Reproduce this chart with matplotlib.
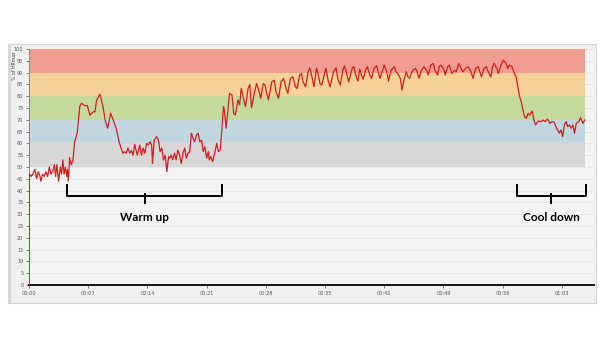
import matplotlib
matplotlib.use("Agg")
import matplotlib.pyplot as plt
from matplotlib.patches import Rectangle
import numpy as np

# heart rate as % of HRmax, time in minutes
minutes = [0, 0.05, 0.25, 0.45, 0.7, 0.9, 1.1, 1.3, 1.4, 1.6, 1.8, 2.0, 2.2, 2.4, 2.6, 2.8,
           3.0, 3.15, 3.3, 3.5, 3.7, 3.85, 4.0, 4.15, 4.3, 4.45, 4.55, 4.65, 4.8, 5.0, 5.2,
           5.4, 5.7, 6.0, 6.2, 6.6, 6.9, 7.2, 7.6, 7.8, 8.0, 8.4, 8.75, 9.0, 9.3, 9.65, 10.05,
           10.3, 10.7, 11.1, 11.3, 11.5, 11.7, 11.9, 12.1, 12.3, 12.5, 12.8,
           13.1, 13.3, 13.5, 13.7, 13.9, 14.1, 14.3, 14.5, 14.6, 14.8, 15.1, 15.3, 15.5, 15.7,
           15.9, 16.1, 16.3, 16.5, 16.65, 16.8, 17.0, 17.2, 17.4, 17.6, 17.8, 18.0, 18.2, 18.4,
           18.6, 18.8, 19.0, 19.2, 19.4, 19.6, 19.8, 20.0, 20.2, 20.4, 20.6, 20.8, 21.0, 21.2,
           21.3, 21.5, 21.7, 21.9, 22.2, 22.4, 22.6, 22.8, 23.0, 23.1, 23.3, 23.5, 23.7, 24.0,
           24.2, 24.4, 24.7, 24.9, 25.1, 25.4, 25.6, 25.9, 26.1,
           26.2, 26.3, 26.6, 26.9, 27.1, 27.4, 27.7, 27.9, 28.3, 28.7, 29.0, 29.2, 29.5, 29.8,
           30.1, 30.4, 30.6, 30.9, 31.2, 31.5, 31.7, 32.0, 32.2, 32.4, 32.7, 33.0, 33.2, 33.5,
           33.7, 34.0, 34.2, 34.4, 34.6, 34.9, 35.1, 35.4, 35.6, 36.0, 36.3, 36.5, 36.8, 37.1,
           37.3, 37.6, 37.8, 38.2, 38.4, 38.7, 38.9,
           39.1, 39.3, 39.5, 39.8, 40.0, 40.3, 40.5, 40.8, 41.1, 41.3, 41.5, 41.8, 42.0, 42.3,
           42.5, 42.8, 43.2, 43.4, 43.6, 43.9, 44.1, 44.3, 44.6, 44.8, 45.0, 45.2, 45.4, 45.7,
           45.9, 46.1, 46.4, 46.7, 47.0, 47.2, 47.5, 47.8, 48.0, 48.3, 48.5, 48.7, 49.1, 49.2,
           49.5, 49.7, 50.0, 50.3, 50.5, 50.8, 51.0, 51.3, 51.6, 51.9,
           52.2, 52.5, 52.8, 53.1, 53.3, 53.5, 53.8, 54.1, 54.3, 54.6, 54.8, 55.0, 55.3, 55.5,
           55.8, 56.1, 56.4, 56.6, 56.8, 57.1, 57.3, 57.6, 57.8, 58.0, 58.2, 58.4, 58.6, 58.8,
           59.0, 59.2, 59.5, 59.7, 59.9, 60.2, 60.5, 60.8, 61.0, 61.3, 61.6, 61.8, 62.1, 62.2,
           62.5, 62.7, 62.9, 63.1, 63.3, 63.5, 63.7, 63.9, 64.1, 64.3, 64.5, 64.7, 65.0, 65.2,
           65.5, 65.7]
hr_pct = [0, 47, 46, 47, 49, 45, 48, 46, 44, 47, 46, 48, 46, 50, 47, 48,
          51, 46, 51, 44, 50, 47, 53, 47, 50, 46, 49, 44, 54, 51, 53,
          60.7, 64.3, 75.6, 77, 76, 76, 72, 73.4, 73.4, 78.4, 80.8, 75.5, 69.9, 66.4, 72.8, 69,
          66.4, 60, 55.8, 56.5, 55.8, 58, 55.8, 57, 55, 59.6, 55,
          59.3, 55, 58, 55.8, 60, 59.3, 60.7, 59.3, 51.5, 61.4, 62.8, 61.4, 56.5, 58,
          53, 55, 48, 54.4, 53.7, 55, 53, 55.8, 53, 57.2, 55, 51.5, 55.8, 58,
          53.7, 55.8, 56.5, 64.3, 62.2, 60.7, 63.6, 64.3, 60.7, 61.4, 56.5, 58.6, 53.7, 56.5,
          53, 54.4, 52.3, 55, 60, 56.5, 57.2, 65.7, 75.6, 74.2, 66.4, 73.4, 81.2, 80.5,
          72.7, 72, 78.4, 76.3, 83.3, 78.4, 75.6, 83.3, 85,
          80.5, 75.1, 80.5, 85.4, 83.3, 79.1, 85.4, 84.7, 78.4, 86.1, 86.8, 81.9, 79.1, 86.1,
          87.5, 83.3, 81.2, 87.5, 88.2, 84, 83.3, 88.9, 89.6, 86.1, 84, 90.3, 92, 87.5,
          84, 92, 89, 85.4, 84.7, 89, 91.8, 86.1, 84, 90.3, 92, 87.5, 84.7, 91,
          92.9, 89, 86, 91.8, 92.5, 88, 86.4,
          91.5, 89, 87.2, 91.1, 92.5, 89, 87.6, 91.8, 92.9, 90.3, 87.6, 91, 93.2, 90.3,
          86.4, 91, 92.5, 90.3, 89.6, 87.6, 82.6, 86.4, 90.4, 88.2, 87.6, 89.6, 91, 91.8,
          90.3, 87.6, 91, 92.5, 91, 89, 93.2, 93.9, 91, 89, 92.5, 93.2, 91, 89,
          92.5, 93.2, 89.6, 91, 90.3, 93.9, 92.5, 90.3, 91.8, 92.5,
          91, 87.6, 91.8, 92.5, 90.3, 88.2, 91.8, 92.5, 90.3, 88.2, 92.5, 93.9, 91.8, 89.6,
          93.2, 95.3, 93.9, 91.8, 93.2, 92.5, 90.4, 88.2, 84, 79.8, 77.7, 74.1, 71.3, 70.6,
          72.7, 72, 73.7, 69.9, 67.8, 69.5, 69.2, 69.9, 69.2, 70.3, 68.5, 69.2, 69, 67.8,
          65.7, 64.3, 65.7, 62.8, 67.8, 69.2, 67.1, 67.8, 66.4, 67.8, 64.3, 68.5, 69.2, 70.9,
          68.5, 69.9]

# intensity zones
zone_low = [50, 60, 70, 80, 90]
zone_high = [60, 70, 80, 90, 100]
zone_colors = ["#d7d7d7", "#c2d6e0", "#c6d99c", "#f5d196", "#ee9d90"]

tick_minutes = [0, 7, 14, 21, 28, 35, 42, 49, 56, 63]
tick_labels = ["00:00", "00:07", "00:14", "00:21", "00:28", "00:35",
               "00:42", "00:49", "00:56", "01:03"]

# bracket annotations: (start, end, label)
phases = [(4.53, 22.8, "Warm up"), (57.7, 65.8, "Cool down")]

fig = plt.figure(figsize=(6.05, 3.40), dpi=100)
fig.patch.set_facecolor("white")

# grey panel behind the chart
W, H = 605.0, 340.0
fig.patches.append(Rectangle((8 / W, 1 - 303 / H), 588 / W, 259 / H,
                             transform=fig.transFigure, facecolor="#f0f0f0",
                             edgecolor="#d4d4d4", lw=0.8, zorder=-2))
fig.patches.append(Rectangle((8 / W, 1 - 303 / H), 3 / W, 259 / H,
                             transform=fig.transFigure, facecolor="#d8d8d8",
                             edgecolor="none", zorder=-1))

ax = fig.add_axes([29 / W, 1 - 285 / H, (594 - 29) / W, 236 / H], zorder=1)
ax.set_facecolor("#f4f4f4")

span = [minutes[0], minutes[-1]]
for lo, hi, c in zip(zone_low, zone_high, zone_colors):
    ax.fill_between(span, lo, hi, color=c, lw=0, zorder=1)

ax.plot(minutes, hr_pct, color="#d01f1f", lw=0.9, zorder=3)

ax.set_xlim(0, 66.8)
ax.set_ylim(0, 100)
ax.set_yticks(np.arange(0, 101, 5))
ax.set_xticks(tick_minutes)
ax.set_xticklabels(tick_labels)
ax.tick_params(axis="both", labelsize=3.6, length=2, width=0.5,
               colors="#555555", pad=2)
ax.yaxis.grid(True, color="#e6e6e6", lw=0.6, zorder=0)
ax.set_axisbelow(True)
for s in ["top", "right"]:
    ax.spines[s].set_visible(False)
ax.spines["left"].set_color("#888888")
ax.spines["left"].set_linewidth(0.7)
ax.spines["bottom"].set_color("#111111")
ax.spines["bottom"].set_linewidth(1.4)

fig.text(15 / W, 1 - 66 / H, "% of HRmax", rotation=90, fontsize=3.3,
         color="#444444", ha="center", va="center")

# brackets
top, mid, tip = 42.4, 37.7, 34.7
for start, end, label in phases:
    c = (start + end) / 2
    ax.plot([start, start, end, end], [top, mid, mid, top],
            color="black", lw=1.4, zorder=4, solid_joinstyle="round")
    ax.plot([c, c], [mid + 1.0, tip], color="black", lw=1.4, zorder=4)
    ax.text(c, 28.5, label, ha="center", va="center", fontsize=8.5,
            fontweight="bold", family=["Lato", "DejaVu Sans"], zorder=4)

fig.savefig("out.png", dpi=100, facecolor="white")
